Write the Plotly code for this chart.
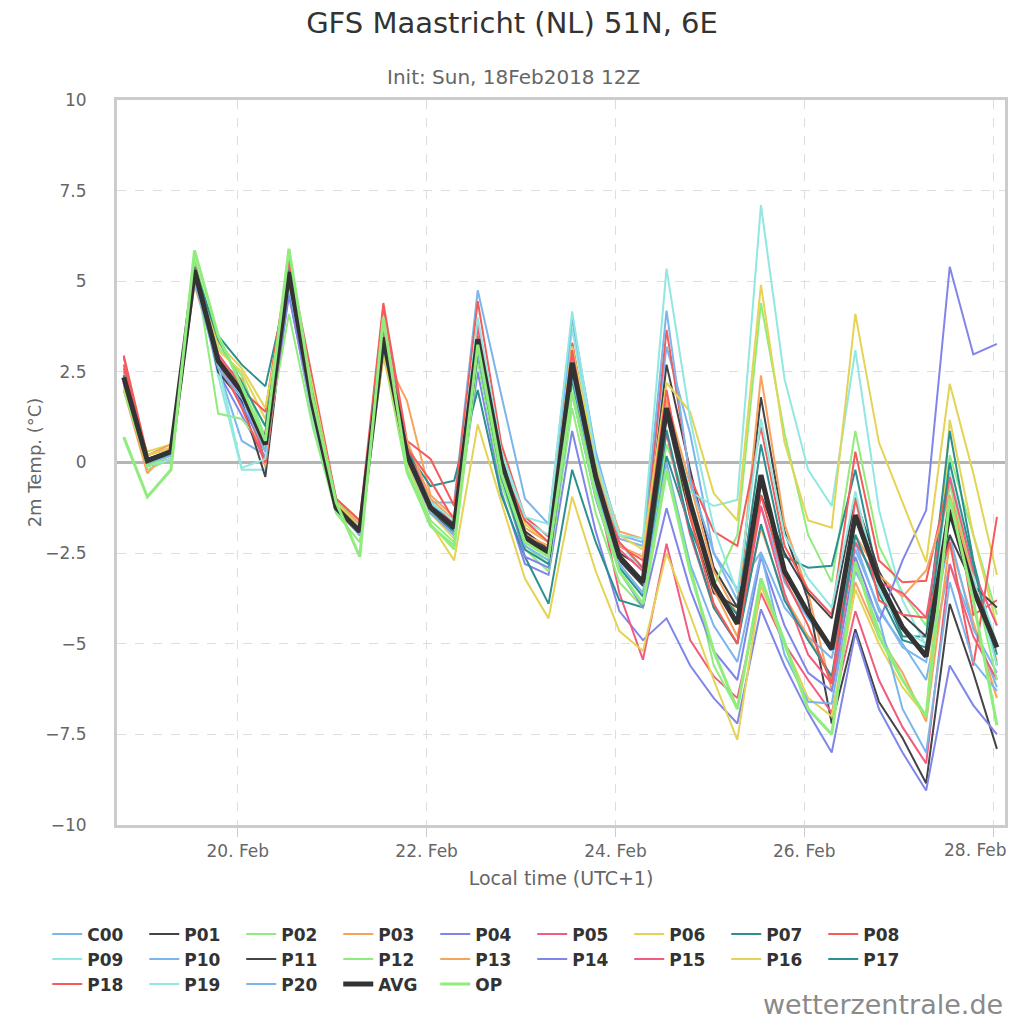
import pandas as pd
import plotly.graph_objects as go

# 6-hourly steps in local time (UTC+1), init 18 Feb 2018 12Z
times = pd.date_range("2018-02-18 19:00", periods=38, freq="6h")

member_names = ["C00", "P01", "P02", "P03", "P04", "P05", "P06", "P07", "P08", "P09",
                "P10", "P11", "P12", "P13", "P14", "P15", "P16", "P17", "P18", "P19", "P20"]

# 2m temperature (degC)
C00 = [2.3, 0.0, 0.2, 5.2, 2.6, 0.6, 0.2, 5.0, 1.4, -1.3, -1.8, 3.3, 0.5, -1.1, -1.1, 4.75, 1.85, -1.0, -1.7, 4.0, 0.2, -2.0, -2.2, 3.2, 0.8, -2.5, -3.8, -1.2, -3.3, -4.3, -5.2, -2.2, -4.1, -5.0, -6.0, -2.8, -4.5, -6.2]
P01 = [2.2, -0.1, 0.1, 5.1, 2.9, 2.2, 0.0, 5.2, 1.5, -1.2, -2.0, 3.4, 0.1, -1.4, -1.9, 3.5, -0.2, -2.1, -2.6, 3.0, -0.5, -2.5, -2.9, 2.7, -0.2, -2.9, -4.0, 1.8, -1.9, -3.8, -7.2, -4.6, -6.6, -7.6, -8.85, -3.9, -5.8, -7.9]
P02 = [2.1, -0.2, 0.1, 5.6, 3.2, 2.4, 0.7, 5.5, 1.8, -1.0, -1.7, 3.9, 0.0, -1.6, -2.2, 3.1, -0.4, -2.3, -2.8, 2.2, -0.8, -2.9, -3.6, 0.5, -1.3, -3.4, -2.0, 4.4, 0.8, -2.0, -3.3, 0.87, -2.3, -3.6, -4.5, 0.2, -2.0, -4.2]
P03 = [2.0, -0.3, 0.4, 4.9, 2.7, 2.3, -0.1, 5.0, 1.9, -1.0, -1.6, 3.0, 1.7, -0.9, -1.5, 3.6, 0.3, -1.8, -2.2, 2.9, 0.0, -1.9, -2.1, 1.75, -0.6, -3.0, -4.2, 2.4, -1.7, -3.6, -6.3, -3.3, -4.8, -5.8, -7.15, -2.2, -4.4, -6.5]
P04 = [2.2, -0.1, 0.2, 5.3, 2.5, 1.3, 0.1, 4.7, 1.2, -1.3, -1.9, 3.3, 0.2, -1.4, -2.0, 2.5, -0.8, -2.8, -3.1, 0.87, -1.9, -4.1, -4.9, -4.3, -5.6, -6.5, -7.2, -4.05, -5.6, -6.9, -8.0, -4.7, -6.8, -8.0, -9.05, -5.6, -6.7, -7.5]
P05 = [2.9, 0.1, 0.2, 5.4, 2.6, 1.9, 0.4, 5.4, 1.7, -1.2, -1.8, 4.3, 0.4, -1.1, -1.7, 3.8, 0.2, -1.9, -2.4, 3.3, -0.6, -3.6, -5.44, -2.24, -4.9, -5.9, -6.5, -3.6, -5.0, -6.0, -6.9, -4.1, -6.0, -7.3, -8.3, -2.8, -4.8, -6.0]
P06 = [2.0, 0.3, 0.5, 5.0, 3.1, 2.5, 1.2, 4.9, 1.6, -1.3, -2.0, 3.2, -0.2, -1.7, -2.7, 1.05, -1.1, -3.2, -4.3, -0.94, -3.0, -4.65, -5.2, -2.5, -4.2, -6.0, -7.65, -3.4, -5.0, -6.5, -7.0, -3.5, -5.0, -6.2, -7.0, 1.18, -2.0, -4.5]
P07 = [2.3, 0.1, 0.3, 5.2, 3.5, 2.7, 2.1, 5.0, 1.8, -1.1, -1.8, 3.2, 0.3, -0.65, -0.5, 2.0, -0.9, -2.6, -3.9, -0.2, -2.2, -3.8, -4.0, 0.18, -1.8, -3.4, -4.2, 0.5, -2.6, -2.9, -2.85, -0.2, -3.3, -4.8, -4.8, 0.87, -2.7, -5.3]
P08 = [2.95, 0.2, 0.4, 5.5, 2.9, 2.0, 1.4, 5.6, 2.3, -1.0, -1.6, 4.4, 0.6, 0.1, -1.2, 4.45, 0.5, -1.5, -2.05, 3.3, -0.2, -2.3, -2.7, 3.66, -0.4, -1.9, -2.3, 0.97, -2.3, -3.5, -4.2, 0.3, -2.7, -3.3, -3.26, -0.38, -4.2, -3.8]
P09 = [2.2, -0.1, 0.1, 5.3, 2.4, -0.2, -0.2, 4.9, 1.2, -1.4, -1.9, 3.7, 0.3, -1.2, -1.8, 3.6, 0.2, -1.6, -2.0, 3.7, 0.0, -2.2, -3.0, 1.4, -0.8, -1.2, -1.03, 7.1, 2.3, -0.2, -1.2, 3.1, -1.3, -3.8, -5.07, -0.3, -3.0, -5.0]
P10 = [2.4, 0.1, 0.3, 5.2, 2.5, 2.0, 0.0, 5.3, 1.6, -1.2, -1.8, 3.4, 0.2, -1.1, -1.8, 3.3, 0.0, -2.0, -2.4, 4.0, 0.3, -2.1, -2.3, 4.19, -0.5, -2.5, -3.5, -2.47, -4.0, -4.8, -5.4, -2.4, -4.0, -5.1, -5.5, -2.0, -4.6, -5.8]
P11 = [2.4, 0.1, 0.3, 5.4, 2.5, 1.7, -0.4, 5.1, 1.7, -1.3, -1.9, 3.6, 0.3, -1.2, -1.7, 3.3, 0.1, -1.9, -2.4, 2.6, -0.3, -2.7, -3.4, 1.3, -1.5, -3.6, -4.0, -0.9, -2.5, -3.6, -4.3, -0.98, -3.0, -4.2, -4.8, -2.0, -3.4, -4.0]
P12 = [2.0, -0.1, 0.2, 5.5, 1.35, 1.2, 0.4, 4.1, 1.0, -1.4, -2.2, 3.0, -0.3, -1.7, -2.4, 2.8, -0.6, -2.4, -3.0, 1.5, -1.4, -3.3, -4.0, -0.3, -2.8, -5.6, -6.8, -3.2, -4.9, -6.8, -7.5, -2.8, -4.6, -6.0, -7.0, -0.6, -3.2, -6.0]
P13 = [2.5, 0.2, 0.5, 5.0, 3.0, 2.0, -0.1, 5.1, 1.3, -1.1, -1.7, 2.9, 0.6, -1.0, -1.6, 3.2, -0.1, -2.0, -2.3, 2.5, -0.2, -2.3, -2.6, 1.6, -1.4, -3.5, -4.8, -1.8, -3.7, -4.8, -6.0, -2.0, -3.1, -3.7, -2.98, -0.9, -3.2, -5.5]
P14 = [2.4, 0.0, 0.3, 5.2, 2.7, 1.6, 0.3, 4.6, 1.4, -1.2, -1.8, 3.5, 0.3, -1.3, -1.9, 3.0, -0.3, -2.6, -2.9, 1.9, -1.0, -3.0, -4.0, -1.26, -3.5, -5.2, -6.0, -2.6, -4.5, -5.8, -6.3, -2.6, -4.4, -2.7, -1.32, 5.4, 2.98, 3.27]
P15 = [2.6, 0.0, 0.3, 5.3, 3.0, 2.1, 0.0, 5.2, 1.6, -1.1, -1.9, 3.6, 0.2, -1.3, -1.8, 3.7, 0.1, -2.2, -2.6, 3.0, -0.3, -2.4, -3.0, 0.8, -2.0, -4.0, -5.0, -1.2, -3.6, -5.3, -6.1, -2.2, -3.3, -3.6, -4.28, -0.4, -3.0, -4.5]
P16 = [2.1, 0.2, 0.4, 5.2, 3.3, 2.6, 1.5, 5.0, 2.1, -1.1, -1.8, 3.0, 0.0, -1.4, -2.1, 3.5, 0.0, -1.7, -2.2, 3.2, 0.0, -2.0, -2.4, 2.2, 1.4, -0.85, -1.6, 4.9, 0.55, -1.6, -1.8, 4.1, 0.55, -1.1, -2.75, 2.17, -0.3, -3.1]
P17 = [2.4, 0.0, 0.2, 5.4, 3.4, 2.2, 1.0, 5.3, 1.9, -1.2, -1.9, 3.3, 0.1, -1.3, -1.9, 3.1, -0.4, -2.4, -2.8, 2.3, -0.8, -2.9, -3.7, 0.9, -1.9, -4.0, -5.0, -1.7, -3.8, -4.9, -5.9, -2.0, -3.6, -4.9, -5.1, 0.0, -2.8, -5.6]
P18 = [2.7, 0.1, 0.3, 5.3, 2.8, 1.5, 0.0, 5.1, 1.5, -1.3, -2.0, 3.6, 0.4, -0.5, -1.6, 3.5, -0.1, -1.6, -2.2, 3.1, -0.5, -2.2, -2.9, 2.0, -1.5, -3.9, -5.0, -0.9, -3.2, -4.5, -6.1, -1.0, -3.8, -4.2, -4.28, -2.2, -5.6, -1.5]
P19 = [2.3, 0.0, 0.2, 5.1, 2.7, -0.15, 0.1, 5.2, 1.3, -1.3, -1.8, 3.9, 0.1, -1.1, -1.6, 4.0, 0.3, -1.5, -1.7, 4.17, 0.1, -2.0, -2.1, 5.35, 1.2, -1.8, -3.6, 1.2, -2.0, -3.2, -4.0, -0.8, -3.5, -4.6, -5.0, -1.5, -3.2, -5.6]
P20 = [2.2, 0.0, 0.2, 5.0, 2.6, 1.8, 0.3, 5.0, 1.5, -1.3, -2.0, 3.2, 0.1, -1.4, -2.0, 3.0, -0.2, -2.3, -2.7, 2.4, -0.7, -2.8, -3.6, 0.0, -2.8, -4.5, -5.5, -2.5, -5.3, -6.6, -6.65, -3.0, -4.3, -6.8, -8.0, -3.3, -5.5, -6.3]
AVG = [2.35, 0.05, 0.3, 5.3, 2.8, 1.95, 0.5, 5.25, 1.6, -1.25, -1.9, 3.45, 0.2, -1.25, -1.8, 3.4, 0.0, -2.05, -2.5, 2.75, -0.4, -2.6, -3.3, 1.5, -1.1, -3.35, -4.45, -0.35, -3.0, -4.15, -5.15, -1.45, -3.25, -4.55, -5.35, -1.3, -3.5, -5.1]
OP = [0.7, -0.95, -0.2, 5.85, 3.5, 2.1, 0.6, 5.9, 1.8, -1.1, -2.6, 4.0, -0.2, -1.75, -2.3, 3.25, -0.3, -2.2, -2.6, 1.94, -0.9, -3.0, -3.9, -0.2, -3.0, -5.2, -6.8, -3.2, -5.0, -6.8, -7.5, -2.75, -4.8, -6.0, -7.0, -1.0, -3.8, -7.25]

members = [C00, P01, P02, P03, P04, P05, P06, P07, P08, P09,
           P10, P11, P12, P13, P14, P15, P16, P17, P18, P19, P20]

# x axis labels every 2 days
day_ticks = ["2018-02-20", "2018-02-22", "2018-02-24", "2018-02-26", "2018-02-28"]
day_labels = ["20. Feb", "22. Feb", "24. Feb", "26. Feb", "28. Feb"]

# highcharts default palette, cycled
palette = ["#7cb5ec", "#434348", "#90ed7d", "#f7a35c", "#8085e9",
           "#f15c80", "#e4d354", "#2b908f", "#f45b5b", "#91e8e1"]

fig = go.Figure()

for i, (name, vals) in enumerate(zip(member_names, members)):
    fig.add_trace(go.Scatter(x=times, y=vals, name=name, mode="lines",
                             line=dict(color=palette[i % 10], width=2)))

fig.add_trace(go.Scatter(x=times, y=AVG, name="AVG", mode="lines",
                         line=dict(color="#333333", width=5)))
fig.add_trace(go.Scatter(x=times, y=OP, name="OP", mode="lines",
                         line=dict(color="#90ed7d", width=3)))

font_family = "DejaVu Sans"

fig.update_layout(
    width=1024, height=1024,
    paper_bgcolor="white", plot_bgcolor="white",
    margin=dict(l=117, r=19, t=100, b=199),
    font=dict(family=font_family, color="#666666"),
    title=dict(text="GFS Maastricht (NL) 51N, 6E", x=0.5, xanchor="center",
               y=0.978, yanchor="middle",
               font=dict(size=29, color="#333333", family=font_family)),
    legend=dict(orientation="h", x=0.413, xanchor="center", y=-0.126, yanchor="top",
                entrywidth=52, entrywidthmode="pixels", tracegroupgap=0,
                font=dict(size=17, color="#333333", family=font_family, weight="bold"),
                itemclick=False),
    showlegend=True,
)

fig.add_annotation(text="Init: Sun, 18Feb2018 12Z", xref="paper", yref="paper",
                   x=0.446, y=1.032, xanchor="center", yanchor="middle", showarrow=False,
                   font=dict(size=20, color="#666666", family=font_family))
fig.add_annotation(text="wetterzentrale.de", xref="paper", yref="paper",
                   x=1.0, y=-0.247, xanchor="right", yanchor="middle", showarrow=False,
                   font=dict(size=27, color="#8a8a8a", family=font_family))
# last day label is pushed inside the chart edge, like the original
fig.add_annotation(text=day_labels[-1], xref="paper", yref="paper",
                   x=0.967, y=-0.0345, xanchor="center", yanchor="middle", showarrow=False,
                   font=dict(size=17, color="#666666", family=font_family))

fig.update_xaxes(
    type="date", range=["2018-02-18 17:17", "2018-02-28 03:03"],
    tickvals=day_ticks, ticktext=day_labels[:-1] + [""],
    showgrid=True, gridcolor="#dddddd", griddash="dash", gridwidth=1,
    showline=True, mirror=True, linecolor="#cccccc", linewidth=3,
    ticks="outside", ticklen=9, tickcolor="#cccccc", tickwidth=1, ticklabelstandoff=0,
    tickfont=dict(size=17, color="#666666"),
    title=dict(text="Local time (UTC+1)", font=dict(size=19, color="#666666"), standoff=12),
)

fig.update_yaxes(
    range=[-10, 10], tickvals=[-10, -7.5, -5, -2.5, 0, 2.5, 5, 7.5, 10],
    showgrid=True, gridcolor="#dddddd", griddash="dash", gridwidth=1,
    zeroline=True, zerolinecolor="#b5b5b5", zerolinewidth=3,
    showline=True, mirror=True, linecolor="#cccccc", linewidth=3,
    ticks="", ticklabelstandoff=24,
    tickfont=dict(size=17, color="#666666"),
    title=dict(text="2m Temp. (°C)", font=dict(size=18, color="#666666"), standoff=0),
)

fig.write_html("out.html", config={"displayModeBar": False},
               post_script="document.body.style.margin='0';")
